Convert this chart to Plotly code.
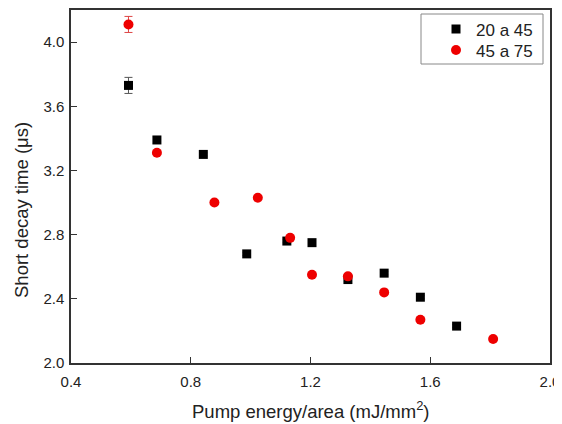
import plotly.graph_objects as go

x_a = [0.592, 0.687, 0.842, 0.987, 1.121, 1.205, 1.325, 1.446, 1.567, 1.688]
y_a = [3.73, 3.39, 3.30, 2.68, 2.76, 2.75, 2.52, 2.56, 2.41, 2.23]
e_a = [0.05, 0.02, 0.01, 0.01, 0.01, 0.01, 0.01, 0.01, 0.01, 0.01]

x_b = [0.592, 0.687, 0.879, 1.024, 1.132, 1.205, 1.325, 1.446, 1.567, 1.810]
y_b = [4.11, 3.31, 3.00, 3.03, 2.78, 2.55, 2.54, 2.44, 2.27, 2.15]
e_b = [0.05, 0.01, 0.01, 0.01, 0.01, 0.01, 0.01, 0.01, 0.01, 0.01]

x_ticks = [0.4, 0.8, 1.2, 1.6, 2.0]
y_ticks = [2.0, 2.4, 2.8, 3.2, 3.6, 4.0]

font = "Liberation Sans, Arial, sans-serif"

# page body adds an 8px offset; figure sized to fit the 562x424 window
OFF = 8
W, H = 562 - OFF, 424 - OFF
ML, MR, MT, MB = 63, 12, 2, 61
pw = W - ML - MR
ph = H - MT - MB


def px_x(sx):
    return (sx - OFF - ML) / pw


def px_y(sy):
    return ((H - MB) - (sy - OFF)) / ph


fig = go.Figure()
fig.add_trace(go.Scatter(
    x=x_a, y=y_a, mode="markers", name="20 a 45", legend="legend",
    marker=dict(symbol="square", size=9, color="black"),
    error_y=dict(type="data", array=e_a, color="#555", thickness=1, width=4),
))
fig.add_trace(go.Scatter(
    x=x_b, y=y_b, mode="markers", name="45 a 75", legend="legend2",
    marker=dict(symbol="circle", size=10, color="#ee0000"),
    error_y=dict(type="data", array=e_b, color="#d44", thickness=1, width=4),
))

axis_common = dict(
    showline=True, linecolor="#333", linewidth=1.5, mirror=True,
    ticks="inside", ticklen=6, tickcolor="#333", showgrid=False, zeroline=False,
    tickfont=dict(family=font, size=15, color="#222"), automargin=False,
    ticklabeloverflow="allow",
)
fig.update_xaxes(range=[0.4, 2.0], tickvals=x_ticks, ticktext=[f"{v:.1f}" for v in x_ticks],
                 ticklabelstandoff=4, **axis_common)
fig.update_yaxes(range=[2.0, 4.2], tickvals=y_ticks, ticktext=[f"{v:.1f}" for v in y_ticks],
                 ticklabelstandoff=2, **axis_common)

legend_common = dict(xanchor="left", yanchor="middle", bgcolor="rgba(0,0,0,0)",
                     borderwidth=0, font=dict(family=font, size=17, color="#222"),
                     itemwidth=30)

fig.update_layout(
    width=W, height=H,
    margin=dict(l=ML, r=MR, t=MT, b=MB),
    plot_bgcolor="white", paper_bgcolor="white",
    font=dict(family=font, color="#222"),
    legend=dict(x=px_x(436), y=px_y(29.5), **legend_common),
    legend2=dict(x=px_x(436), y=px_y(50.5), **legend_common),
    showlegend=True,
    shapes=[dict(type="rect", xref="paper", yref="paper",
                 x0=px_x(421), x1=px_x(543), y0=px_y(64), y1=px_y(14),
                 line=dict(color="#888", width=1), fillcolor="rgba(0,0,0,0)", layer="above")],
    annotations=[
        dict(text="Pump energy/area (mJ/mm<sup>2</sup>)", x=px_x(311), y=px_y(410),
             xref="paper", yref="paper", showarrow=False,
             font=dict(family=font, size=18.5, color="#222"),
             xanchor="center", yanchor="middle"),
        dict(text="Short decay time (μs)", x=px_x(21), y=px_y(210),
             xref="paper", yref="paper", showarrow=False, textangle=-90,
             font=dict(family=font, size=18.5, color="#222"),
             xanchor="center", yanchor="middle"),
    ],
)

fig.write_html("out.html")
